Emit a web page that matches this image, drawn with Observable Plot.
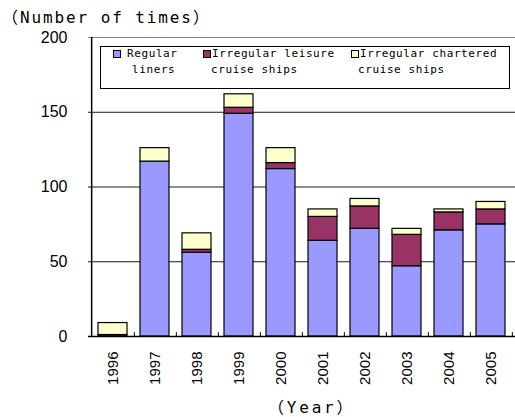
<!DOCTYPE html>
<html>
<head>
<meta charset="utf-8">
<script src="https://cdn.jsdelivr.net/npm/d3@7"></script>
<script src="https://cdn.jsdelivr.net/npm/@observablehq/plot@0.6"></script>
<style>
  body { margin: 0; background: #fff; }
  #wrap { position: relative; width: 515px; height: 417px; overflow: hidden; background: #fff; }
  .t { position: absolute; white-space: nowrap; color: #000; font-family: "DejaVu Sans Mono", "Noto Sans CJK JP", monospace; }
  .lg { position: absolute; white-space: nowrap; font-family: "DejaVu Sans Mono", monospace; font-size: 11px; letter-spacing: 0.6px; color: #000; }
  .sw { position: absolute; width: 6px; height: 6px; border: 1px solid #000; }
  #legend { position: absolute; left: 100px; top: 46px; width: 408px; height: 41px; border: 1px solid #000; background: #fff; }
</style>
</head>
<body>
<div id="wrap"></div>
<script>
const years = ["1996","1997","1998","1999","2000","2001","2002","2003","2004","2005"];
const regular   = [0, 117, 56, 149, 112, 64, 72, 47, 71, 75];
const leisure   = [1,   0,  2,   4,   4, 16, 15, 21, 12, 10];
const chartered = [8,   9, 11,   9,  10,  5,  5,  4,  2,  5];
const seriesNames = ["Regular liners", "Irregular leisure cruise ships", "Irregular chartered cruise ships"];
const seriesLine1 = ["Regular", "Irregular leisure", "Irregular chartered"];
const seriesLine2 = ["liners", "cruise ships", "cruise ships"];
const seriesColors = ["#9999FF", "#993366", "#FFFFCC"];
const yTicks = [0, 50, 100, 150, 200];
const gridValues = [50, 100, 150];
const yTitle = "（Number of times）";
const xTitle = "（Year）";

const seriesValues = [regular, leisure, chartered];
const data = years.flatMap((yr, i) => seriesNames.map((s, k) => ({year: yr, series: s, value: seriesValues[k][i]})));

const W = 515, H = 417, ML = 88, MR = 0, MT = 37, MB = 81;
const halfStep = (W - ML - MR) / years.length / 2;

const chart = Plot.plot({
  width: W, height: H,
  marginLeft: ML, marginRight: MR, marginTop: MT, marginBottom: MB,
  style: {fontFamily: "'Liberation Sans', Arial, sans-serif", fontSize: "15px", background: "transparent", color: "#000"},
  x: {domain: years, paddingInner: 0.3, paddingOuter: 0.15, label: null},
  y: {domain: [0, 200], label: null},
  color: {domain: seriesNames, range: seriesColors},
  marks: [
    Plot.ruleY([200], {stroke: "#808080", strokeWidth: 1}),
    Plot.ruleY(gridValues, {stroke: "#1a1a1a", strokeWidth: 1}),
    Plot.barY(data, {x: "year", y: "value", fill: "series", stroke: "#000", strokeWidth: 1.2}),
    Plot.ruleY([0], {stroke: "#000", strokeWidth: 1.5}),
    Plot.ruleX([years[0]], {x: d => d, dx: -halfStep, y1: 0, y2: 200, stroke: "#000", strokeWidth: 1.5}),
    Plot.ruleX(years, {x: d => d, dx: halfStep, y1: 0, y2: 2.6, stroke: "#000", strokeWidth: 1}),
    Plot.axisY(yTicks, {tickSize: 0, tickPadding: 21, fontSize: 16, label: null}),
    Plot.axisX({tickSize: 0, tickPadding: 15, tickRotate: -90, fontSize: 15, label: null})
  ]
});

const wrap = document.getElementById("wrap");
wrap.appendChild(chart);

const title = document.createElement("div");
title.className = "t";
title.style.cssText = "left:2px;top:4px;font-size:16px;letter-spacing:1.9px;";
title.textContent = yTitle;
wrap.appendChild(title);

const xl = document.createElement("div");
xl.className = "t";
xl.style.cssText = "left:268px;top:394px;font-size:16px;letter-spacing:2.8px;";
xl.textContent = xTitle;
wrap.appendChild(xl);

const legend = document.createElement("div");
legend.id = "legend";
wrap.appendChild(legend);
const swX = [12, 102, 250];
const txX = [26, 111, 259];
const indent = [5, -1, -2];
seriesNames.forEach((s, k) => {
  const sw = document.createElement("div");
  sw.className = "sw";
  sw.style.left = swX[k] + "px";
  sw.style.top = "3px";
  sw.style.background = seriesColors[k];
  legend.appendChild(sw);
  const l1 = document.createElement("div");
  l1.className = "lg";
  l1.style.left = txX[k] + "px";
  l1.style.top = "0px";
  l1.textContent = seriesLine1[k];
  legend.appendChild(l1);
  const l2 = document.createElement("div");
  l2.className = "lg";
  l2.style.left = (txX[k] + indent[k]) + "px";
  l2.style.top = "16px";
  l2.textContent = seriesLine2[k];
  legend.appendChild(l2);
});
</script>
</body>
</html>
